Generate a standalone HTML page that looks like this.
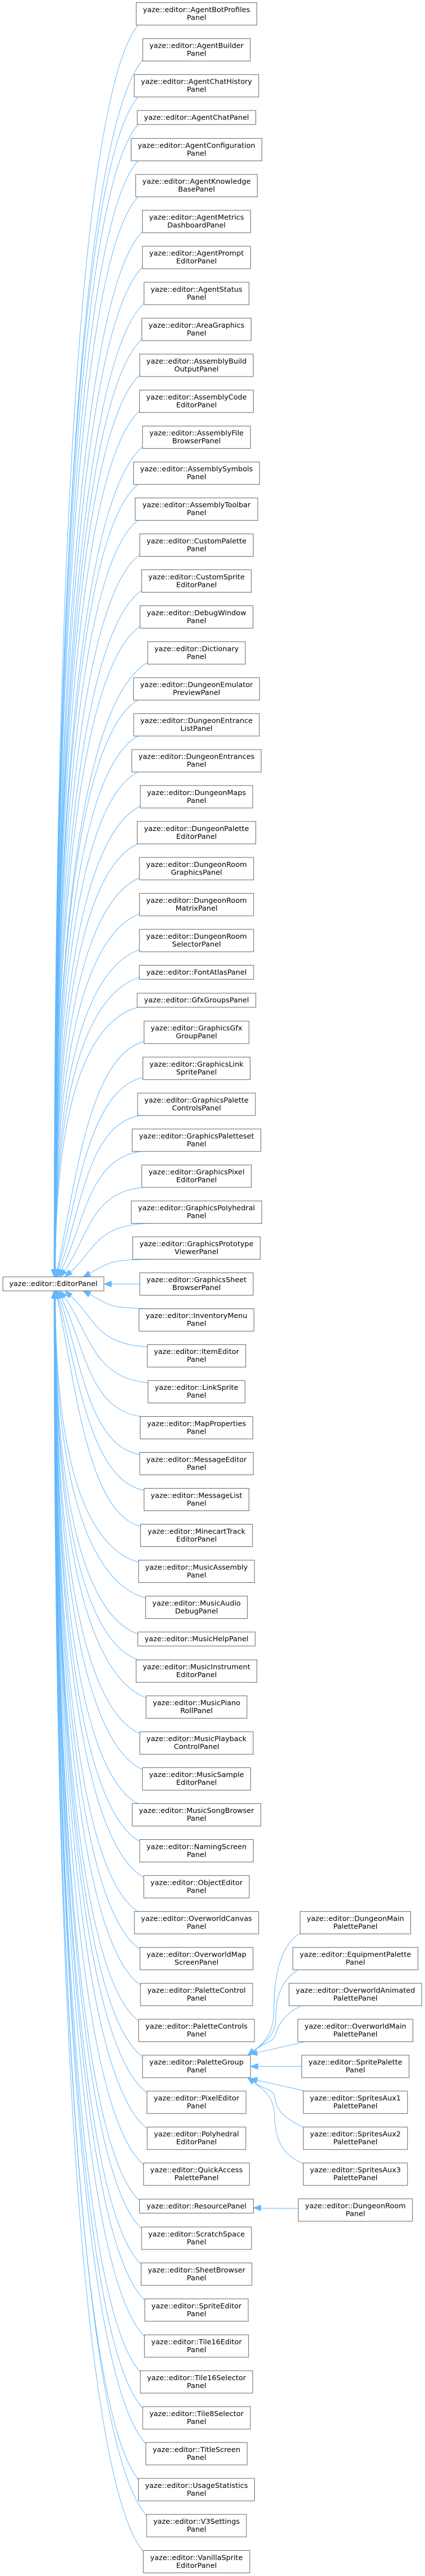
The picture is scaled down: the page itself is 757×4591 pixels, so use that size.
<!DOCTYPE html>
<html><head><meta charset="utf-8"><title>yaze::editor::EditorPanel inheritance</title>
<style>
html,body{margin:0;padding:0;background:#fff;}
svg{display:block;}
text{font-family:"DejaVu Sans","Liberation Sans",sans-serif;font-size:12.8px;text-anchor:middle;fill:#000;}
.n rect{fill:#fff;stroke:#666;stroke-width:1;}
.e path{fill:none;stroke:#63B8FF;stroke-width:1;}
.e polygon{fill:#63B8FF;stroke:#63B8FF;stroke-width:1;}
</style></head>
<body>
<svg xmlns="http://www.w3.org/2000/svg" width="757" height="4591" viewBox="0 0 757 4591">
<g class="e">
<path d="M246 44.7C151.8 160 96.4 898.6 96.4 2262.7"/>
<path d="M255.8 104.8C155.4 218.9 96.4 936.8 96.4 2262.7"/>
<path d="M246 172.8C151.8 281.5 96.4 977.4 96.4 2262.7"/>
<path d="M246 221.9C151.8 328 96.4 1007.6 96.4 2262.7"/>
<path d="M246 286.7C151.8 389.5 96.5 1047.5 96.5 2262.7"/>
<path d="M246 350.8C151.8 450.2 96.5 1086.9 96.5 2262.7"/>
<path d="M255.2 410.8C155.2 509 96.5 1125 96.5 2262.7"/>
<path d="M255.2 474.9C155.2 569.8 96.5 1164.4 96.5 2262.7"/>
<path d="M258 539C156.3 630.5 96.5 1203.9 96.5 2262.7"/>
<path d="M254.2 603C154.8 691.2 96.5 1243.2 96.5 2262.7"/>
<path d="M250.4 667.1C153.4 752 96.5 1282.6 96.5 2262.7"/>
<path d="M250.1 731.2C153.4 812.7 96.6 1322.1 96.6 2262.7"/>
<path d="M255.3 795.3C155.3 873.5 96.6 1361.5 96.6 2262.7"/>
<path d="M246 863.3C151.9 936.1 96.6 1402.1 96.6 2262.7"/>
<path d="M246 927.4C151.9 996.8 96.7 1441.5 96.7 2262.7"/>
<path d="M250.4 987.5C153.6 1055.7 96.7 1479.7 96.7 2262.7"/>
<path d="M253.8 1051.5C154.9 1116.4 96.8 1519 96.8 2262.7"/>
<path d="M250.9 1115.6C153.9 1177.1 96.9 1558.5 96.9 2262.7"/>
<path d="M264.5 1179.7C158.9 1237.9 96.9 1597.9 96.9 2262.7"/>
<path d="M246 1247.8C152.1 1300.6 97 1638.5 97 2262.7"/>
<path d="M246 1311.8C152.2 1361.2 97.1 1677.9 97.1 2262.7"/>
<path d="M246 1375.9C152.3 1422 97.2 1717.3 97.2 2262.7"/>
<path d="M251.5 1436C154.4 1480.9 97.3 1755.5 97.3 2262.7"/>
<path d="M246 1504C152.4 1543.5 97.5 1796.1 97.5 2262.7"/>
<path d="M249.8 1564.1C153.9 1602.3 97.6 1834.3 97.6 2262.7"/>
<path d="M249.8 1628.2C154 1663.1 97.8 1873.7 97.8 2262.7"/>
<path d="M249.8 1692.2C154.2 1723.8 98.1 1913.1 98.1 2262.7"/>
<path d="M249.7 1741.3C154.4 1770.3 98.4 1943.3 98.4 2262.7"/>
<path d="M246 1795.1C153.3 1819.4 98.8 1975.1 98.8 2262.7"/>
<path d="M258.1 1855.9C158.1 1879 134.5 2110.4 102.1 2263"/>
<path d="M256 1920C157.8 1939.7 137.5 2136.6 103.6 2263.1"/>
<path d="M250 1988.1C156.4 2002.4 144.5 2157.3 105.9 2263.5"/>
<path d="M252 2052.1C158.4 2063.1 150.4 2179.5 109.2 2264"/>
<path d="M256 2116.2C162.3 2123.9 158.3 2202.9 114.7 2265.1"/>
<path d="M263 2180.3C170.2 2184.8 170.7 2226.2 125.4 2267"/>
<path d="M268 2244.3C192.4 2245.6 197.5 2249.4 159.5 2269.6"/>
<path d="M249 2288.4L198.3 2288.4"/>
<path d="M268 2332.4C192.4 2331.1 197.5 2327 159.5 2306.8"/>
<path d="M263.8 2400.4C170.5 2395.7 170.7 2350.2 125.4 2309.4"/>
<path d="M265.2 2464.4C165.7 2456.4 160.6 2376.8 114.7 2311.3"/>
<path d="M252 2524.5C158.4 2513.5 150.4 2396.9 109.2 2312.4"/>
<path d="M250.3 2592.5C156.6 2578 144.5 2419.1 105.9 2312.9"/>
<path d="M258.1 2656.5C158.6 2638.7 137.5 2439.8 103.6 2313.3"/>
<path d="M251.8 2720.5C155.8 2699.3 134.5 2466 102.1 2313.4"/>
<path d="M248.3 2784.5C154.1 2760 98.8 2603.2 98.8 2313.7"/>
<path d="M260.9 2848.6C158.5 2820.8 98.4 2642.7 98.4 2313.7"/>
<path d="M247 2912.6C153.2 2881.5 98.1 2682 98.1 2313.7"/>
<path d="M246 2958.3C152.6 2924.8 97.8 2710.1 97.8 2313.7"/>
<path d="M261.6 3026.3C158.3 2989.2 97.6 2751.9 97.6 2313.7"/>
<path d="M250.5 3090.4C154.1 3050 97.5 2791.4 97.5 2313.7"/>
<path d="M255.1 3154.4C155.7 3110.7 97.3 2830.7 97.3 2313.7"/>
<path d="M246 3214.4C152.3 3167.6 97.2 2867.6 97.2 2313.7"/>
<path d="M250.3 3282.5C153.8 3232.1 97.1 2909.5 97.1 2313.7"/>
<path d="M257.5 3346.6C156.4 3292.9 97 2948.9 97 2313.7"/>
<path d="M246 3406.7C152.1 3349.9 96.9 2985.9 96.9 2313.7"/>
<path d="M250.8 3474.7C153.8 3414.3 96.9 3027.7 96.9 2313.7"/>
<path d="M251.6 3538.7C154.1 3475 96.8 3067.1 96.8 2313.7"/>
<path d="M248.3 3602.7C152.8 3535.7 96.7 3106.4 96.7 2313.7"/>
<path d="M255.3 3666.8C155.4 3596.4 96.7 3145.9 96.7 2313.7"/>
<path d="M263.3 3730.8C158.3 3657.1 96.6 3185.2 96.6 2313.7"/>
<path d="M263.6 3794.9C158.4 3717.9 96.6 3224.6 96.6 2313.7"/>
<path d="M257.2 3858.9C156 3778.5 96.6 3264 96.6 2313.7"/>
<path d="M250 3923.3C153.3 3839.6 96.5 3303.6 96.5 2313.7"/>
<path d="M253.6 3973C154.6 3886.7 96.5 3334.2 96.5 2313.7"/>
<path d="M252.8 4037C154.3 3947.4 96.5 3373.5 96.5 2313.7"/>
<path d="M259.4 4101C156.8 4008.1 96.5 3412.9 96.5 2313.7"/>
<path d="M258.8 4165.1C156.6 4068.8 96.5 3452.3 96.5 2313.7"/>
<path d="M251.5 4229.1C153.8 4129.5 96.5 3491.7 96.5 2313.7"/>
<path d="M255.6 4293.1C155.4 4190.2 96.5 3531.1 96.5 2313.7"/>
<path d="M261.3 4357C157.4 4250.7 96.4 3570.3 96.4 2313.7"/>
<path d="M248.1 4421.1C152.5 4311.5 96.4 3609.8 96.4 2313.7"/>
<path d="M262.6 4485.2C157.9 4372.3 96.4 3649.2 96.4 2313.7"/>
<path d="M256.7 4549.5C155.7 4433.2 96.4 3688.7 96.4 2313.7"/>
<!-- heads above -->
<polygon points="96.4,2275.7 91.4,2262.7 101.4,2262.7"/>
<polygon points="96.5,2275.7 91.5,2262.7 101.5,2262.7"/>
<polygon points="96.6,2275.7 91.6,2262.7 101.6,2262.7"/>
<polygon points="96.7,2275.7 91.7,2262.7 101.7,2262.7"/>
<polygon points="96.8,2275.7 91.8,2262.7 101.8,2262.7"/>
<polygon points="96.9,2275.7 91.9,2262.7 101.9,2262.7"/>
<polygon points="97,2275.7 92,2262.7 102,2262.7"/>
<polygon points="97.1,2275.7 92.1,2262.7 102.1,2262.7"/>
<polygon points="97.2,2275.7 92.2,2262.7 102.2,2262.7"/>
<polygon points="97.3,2275.7 92.3,2262.7 102.3,2262.7"/>
<polygon points="97.5,2275.7 92.5,2262.7 102.5,2262.7"/>
<polygon points="97.6,2275.7 92.6,2262.7 102.6,2262.7"/>
<polygon points="97.8,2275.7 92.8,2262.7 102.8,2262.7"/>
<polygon points="98.1,2275.7 93.1,2262.7 103.1,2262.7"/>
<polygon points="98.4,2275.7 93.4,2262.7 103.4,2262.7"/>
<polygon points="98.8,2275.7 93.8,2262.7 103.8,2262.7"/>
<polygon points="99.4,2275.7 107,2264 97.2,2262"/>
<polygon points="100.2,2275.7 108.4,2264.4 98.8,2261.8"/>
<polygon points="101.5,2275.7 110.6,2265.2 101.2,2261.8"/>
<polygon points="103.5,2275.7 113.7,2266.2 104.7,2261.8"/>
<polygon points="107.2,2275.7 118.8,2268 110.6,2262.2"/>
<polygon points="115.7,2275.7 128.7,2270.7 122.1,2263.3"/>
<polygon points="148,2275.7 161.9,2274 157.2,2265.2"/>
<polygon points="185.3,2288.4 198.3,2283.4 198.3,2293.4"/>
<!-- heads below -->
<polygon points="148,2300.7 161.9,2302.4 157.2,2311.2"/>
<polygon points="115.7,2300.7 128.7,2305.7 122.1,2313.1"/>
<polygon points="107.2,2300.7 118.8,2308.4 110.6,2314.2"/>
<polygon points="103.5,2300.7 113.7,2310.2 104.7,2314.6"/>
<polygon points="101.5,2300.7 110.6,2311.2 101.2,2314.6"/>
<polygon points="100.2,2300.7 108.4,2312 98.8,2314.6"/>
<polygon points="99.4,2300.7 107,2312.4 97.2,2314.4"/>
<polygon points="98.8,2300.7 93.8,2313.7 103.8,2313.7"/>
<polygon points="98.4,2300.7 93.4,2313.7 103.4,2313.7"/>
<polygon points="98.1,2300.7 93.1,2313.7 103.1,2313.7"/>
<polygon points="97.8,2300.7 92.8,2313.7 102.8,2313.7"/>
<polygon points="97.6,2300.7 92.6,2313.7 102.6,2313.7"/>
<polygon points="97.5,2300.7 92.5,2313.7 102.5,2313.7"/>
<polygon points="97.3,2300.7 92.3,2313.7 102.3,2313.7"/>
<polygon points="97.2,2300.7 92.2,2313.7 102.2,2313.7"/>
<polygon points="97.1,2300.7 92.1,2313.7 102.1,2313.7"/>
<polygon points="97,2300.7 92,2313.7 102,2313.7"/>
<polygon points="96.9,2300.7 91.9,2313.7 101.9,2313.7"/>
<polygon points="96.8,2300.7 91.8,2313.7 101.8,2313.7"/>
<polygon points="96.7,2300.7 91.7,2313.7 101.7,2313.7"/>
<polygon points="96.6,2300.7 91.6,2313.7 101.6,2313.7"/>
<polygon points="96.5,2300.7 91.5,2313.7 101.5,2313.7"/>
<polygon points="96.4,2300.7 91.4,2313.7 101.4,2313.7"/>
<!-- right column edges -->
<path d="M534.5 3446C500 3466 488 3520 488 3580C488 3625 470 3641 451.4 3655"/>
<path d="M530.7 3510.7C500 3530 491 3560 491 3600C491 3628 470 3641 451.4 3655"/>
<path d="M536.3 3574.7C505 3590 494 3612 490 3628C486 3640 470 3641 451.4 3655"/>
<polygon points="441,3662.8 454.4,3659 448.4,3651"/>
<path d="M544 3638.7L457.7 3658.3"/>
<polygon points="445,3661 458.8,3663.2 456.6,3653.4"/>
<path d="M537.4 3682.8L459.3 3682.8"/>
<polygon points="446.3,3682.8 459.3,3677.8 459.3,3687.8"/>
<path d="M544 3726.8L457.7 3707.3"/>
<polygon points="445,3704.6 458.8,3702.4 456.6,3712.2"/>
<path d="M540.5 3791C505 3775 492 3760 490 3740C488 3722 470 3724.6 451.4 3710.6"/>
<path d="M540.5 3856C500 3840 490 3810 489 3770C488 3738 470 3724.6 451.4 3710.6"/>
<polygon points="441,3702.8 454.4,3706.6 448.4,3714.6"/>
<path d="M531.3 3936L464.5 3935.5"/>
<polygon points="451.5,3935 464.5,3930 464.5,3940"/>
</g>

<g class="n">
<g transform="translate(0,2275.7)"><rect x="5" y="0" width="180" height="25"/><text x="95" y="16.5">yaze::editor::EditorPanel</text></g>

<g transform="translate(0,4.7)"><rect x="242.6" y="0" width="214.8" height="40"/><text x="350" y="16.8">yaze::editor::AgentBotProfiles</text><text x="350" y="30.8">Panel</text></g>
<g transform="translate(0,68.8)"><rect x="254.3" y="0" width="191.4" height="40"/><text x="350" y="16.8">yaze::editor::AgentBuilder</text><text x="350" y="30.8">Panel</text></g>
<g transform="translate(0,132.8)"><rect x="239.2" y="0" width="221.6" height="40"/><text x="350" y="16.8">yaze::editor::AgentChatHistory</text><text x="350" y="30.8">Panel</text></g>
<g transform="translate(0,196.9)"><rect x="244.4" y="0" width="211.2" height="25"/><text x="350" y="16.5">yaze::editor::AgentChatPanel</text></g>
<g transform="translate(0,246.7)"><rect x="233.5" y="0" width="233" height="40"/><text x="350" y="16.8">yaze::editor::AgentConfiguration</text><text x="350" y="30.8">Panel</text></g>
<g transform="translate(0,310.8)"><rect x="241.7" y="0" width="216.6" height="40"/><text x="350" y="16.8">yaze::editor::AgentKnowledge</text><text x="350" y="30.8">BasePanel</text></g>
<g transform="translate(0,374.8)"><rect x="253.7" y="0" width="192.6" height="40"/><text x="350" y="16.8">yaze::editor::AgentMetrics</text><text x="350" y="30.8">DashboardPanel</text></g>
<g transform="translate(0,438.9)"><rect x="253.7" y="0" width="192.6" height="40"/><text x="350" y="16.8">yaze::editor::AgentPrompt</text><text x="350" y="30.8">EditorPanel</text></g>
<g transform="translate(0,503)"><rect x="256.5" y="0" width="187" height="40"/><text x="350" y="16.8">yaze::editor::AgentStatus</text><text x="350" y="30.8">Panel</text></g>
<g transform="translate(0,567)"><rect x="252.7" y="0" width="194.6" height="40"/><text x="350" y="16.8">yaze::editor::AreaGraphics</text><text x="350" y="30.8">Panel</text></g>
<g transform="translate(0,631.1)"><rect x="248.9" y="0" width="202.2" height="40"/><text x="350" y="16.8">yaze::editor::AssemblyBuild</text><text x="350" y="30.8">OutputPanel</text></g>
<g transform="translate(0,695.2)"><rect x="248.6" y="0" width="202.8" height="40"/><text x="350" y="16.8">yaze::editor::AssemblyCode</text><text x="350" y="30.8">EditorPanel</text></g>
<g transform="translate(0,759.3)"><rect x="253.8" y="0" width="192.4" height="40"/><text x="350" y="16.8">yaze::editor::AssemblyFile</text><text x="350" y="30.8">BrowserPanel</text></g>
<g transform="translate(0,823.3)"><rect x="237.8" y="0" width="224.4" height="40"/><text x="350" y="16.8">yaze::editor::AssemblySymbols</text><text x="350" y="30.8">Panel</text></g>
<g transform="translate(0,887.4)"><rect x="240.9" y="0" width="218.2" height="40"/><text x="350" y="16.8">yaze::editor::AssemblyToolbar</text><text x="350" y="30.8">Panel</text></g>
<g transform="translate(0,951.5)"><rect x="248.9" y="0" width="202.2" height="40"/><text x="350" y="16.8">yaze::editor::CustomPalette</text><text x="350" y="30.8">Panel</text></g>
<g transform="translate(0,1015.5)"><rect x="252.3" y="0" width="195.4" height="40"/><text x="350" y="16.8">yaze::editor::CustomSprite</text><text x="350" y="30.8">EditorPanel</text></g>
<g transform="translate(0,1079.6)"><rect x="249.4" y="0" width="201.2" height="40"/><text x="350" y="16.8">yaze::editor::DebugWindow</text><text x="350" y="30.8">Panel</text></g>
<g transform="translate(0,1143.7)"><rect x="263" y="0" width="174" height="40"/><text x="350" y="16.8">yaze::editor::Dictionary</text><text x="350" y="30.8">Panel</text></g>
<g transform="translate(0,1207.8)"><rect x="237.7" y="0" width="224.6" height="40"/><text x="350" y="16.8">yaze::editor::DungeonEmulator</text><text x="350" y="30.8">PreviewPanel</text></g>
<g transform="translate(0,1271.8)"><rect x="238.1" y="0" width="223.8" height="40"/><text x="350" y="16.8">yaze::editor::DungeonEntrance</text><text x="350" y="30.8">ListPanel</text></g>
<g transform="translate(0,1335.9)"><rect x="234.8" y="0" width="230.4" height="40"/><text x="350" y="16.8">yaze::editor::DungeonEntrances</text><text x="350" y="30.8">Panel</text></g>
<g transform="translate(0,1400)"><rect x="250" y="0" width="200" height="40"/><text x="350" y="16.8">yaze::editor::DungeonMaps</text><text x="350" y="30.8">Panel</text></g>
<g transform="translate(0,1464)"><rect x="244.4" y="0" width="211.2" height="40"/><text x="350" y="16.8">yaze::editor::DungeonPalette</text><text x="350" y="30.8">EditorPanel</text></g>
<g transform="translate(0,1528.1)"><rect x="248.3" y="0" width="203.4" height="40"/><text x="350" y="16.8">yaze::editor::DungeonRoom</text><text x="350" y="30.8">GraphicsPanel</text></g>
<g transform="translate(0,1592.2)"><rect x="248.3" y="0" width="203.4" height="40"/><text x="350" y="16.8">yaze::editor::DungeonRoom</text><text x="350" y="30.8">MatrixPanel</text></g>
<g transform="translate(0,1656.2)"><rect x="248.3" y="0" width="203.4" height="40"/><text x="350" y="16.8">yaze::editor::DungeonRoom</text><text x="350" y="30.8">SelectorPanel</text></g>
<g transform="translate(0,1720.3)"><rect x="248.2" y="0" width="203.6" height="25"/><text x="350" y="16.5">yaze::editor::FontAtlasPanel</text></g>
<g transform="translate(0,1770.1)"><rect x="244.3" y="0" width="211.4" height="25"/><text x="350" y="16.5">yaze::editor::GfxGroupsPanel</text></g>
<g transform="translate(0,1819.9)"><rect x="256.6" y="0" width="186.8" height="40"/><text x="350" y="16.8">yaze::editor::GraphicsGfx</text><text x="350" y="30.8">GroupPanel</text></g>
<g transform="translate(0,1884)"><rect x="254.5" y="0" width="191" height="40"/><text x="350" y="16.8">yaze::editor::GraphicsLink</text><text x="350" y="30.8">SpritePanel</text></g>
<g transform="translate(0,1948.1)"><rect x="245.1" y="0" width="209.8" height="40"/><text x="350" y="16.8">yaze::editor::GraphicsPalette</text><text x="350" y="30.8">ControlsPanel</text></g>
<g transform="translate(0,2012.1)"><rect x="235.3" y="0" width="229.4" height="40"/><text x="350" y="16.8">yaze::editor::GraphicsPaletteset</text><text x="350" y="30.8">Panel</text></g>
<g transform="translate(0,2076.2)"><rect x="252.4" y="0" width="195.2" height="40"/><text x="350" y="16.8">yaze::editor::GraphicsPixel</text><text x="350" y="30.8">EditorPanel</text></g>
<g transform="translate(0,2140.3)"><rect x="233.8" y="0" width="232.4" height="40"/><text x="350" y="16.8">yaze::editor::GraphicsPolyhedral</text><text x="350" y="30.8">Panel</text></g>
<g transform="translate(0,2204.3)"><rect x="236.4" y="0" width="227.2" height="40"/><text x="350" y="16.8">yaze::editor::GraphicsPrototype</text><text x="350" y="30.8">ViewerPanel</text></g>
<g transform="translate(0,2268.4)"><rect x="249" y="0" width="202" height="40"/><text x="350" y="16.8">yaze::editor::GraphicsSheet</text><text x="350" y="30.8">BrowserPanel</text></g>
<g transform="translate(0,2332.4)"><rect x="247.7" y="0" width="204.6" height="40"/><text x="350" y="16.8">yaze::editor::InventoryMenu</text><text x="350" y="30.8">Panel</text></g>
<g transform="translate(0,2396.4)"><rect x="262.3" y="0" width="175.4" height="40"/><text x="350" y="16.8">yaze::editor::ItemEditor</text><text x="350" y="30.8">Panel</text></g>
<g transform="translate(0,2460.4)"><rect x="263.7" y="0" width="172.6" height="40"/><text x="350" y="16.8">yaze::editor::LinkSprite</text><text x="350" y="30.8">Panel</text></g>
<g transform="translate(0,2524.5)"><rect x="249.7" y="0" width="200.6" height="40"/><text x="350" y="16.8">yaze::editor::MapProperties</text><text x="350" y="30.8">Panel</text></g>
<g transform="translate(0,2588.5)"><rect x="248.8" y="0" width="202.4" height="40"/><text x="350" y="16.8">yaze::editor::MessageEditor</text><text x="350" y="30.8">Panel</text></g>
<g transform="translate(0,2652.5)"><rect x="256.6" y="0" width="186.8" height="40"/><text x="350" y="16.8">yaze::editor::MessageList</text><text x="350" y="30.8">Panel</text></g>
<g transform="translate(0,2716.5)"><rect x="250.3" y="0" width="199.4" height="40"/><text x="350" y="16.8">yaze::editor::MinecartTrack</text><text x="350" y="30.8">EditorPanel</text></g>
<g transform="translate(0,2780.5)"><rect x="246.8" y="0" width="206.4" height="40"/><text x="350" y="16.8">yaze::editor::MusicAssembly</text><text x="350" y="30.8">Panel</text></g>
<g transform="translate(0,2844.6)"><rect x="259.4" y="0" width="181.2" height="40"/><text x="350" y="16.8">yaze::editor::MusicAudio</text><text x="350" y="30.8">DebugPanel</text></g>
<g transform="translate(0,2908.6)"><rect x="245.5" y="0" width="209" height="25"/><text x="350" y="16.5">yaze::editor::MusicHelpPanel</text></g>
<g transform="translate(0,2958.3)"><rect x="242.4" y="0" width="215.2" height="40"/><text x="350" y="16.8">yaze::editor::MusicInstrument</text><text x="350" y="30.8">EditorPanel</text></g>
<g transform="translate(0,3022.3)"><rect x="260.1" y="0" width="179.8" height="40"/><text x="350" y="16.8">yaze::editor::MusicPiano</text><text x="350" y="30.8">RollPanel</text></g>
<g transform="translate(0,3086.4)"><rect x="249" y="0" width="202" height="40"/><text x="350" y="16.8">yaze::editor::MusicPlayback</text><text x="350" y="30.8">ControlPanel</text></g>
<g transform="translate(0,3150.4)"><rect x="253.6" y="0" width="192.8" height="40"/><text x="350" y="16.8">yaze::editor::MusicSample</text><text x="350" y="30.8">EditorPanel</text></g>
<g transform="translate(0,3214.4)"><rect x="235.4" y="0" width="229.2" height="40"/><text x="350" y="16.8">yaze::editor::MusicSongBrowser</text><text x="350" y="30.8">Panel</text></g>
<g transform="translate(0,3278.5)"><rect x="248.8" y="0" width="202.4" height="40"/><text x="350" y="16.8">yaze::editor::NamingScreen</text><text x="350" y="30.8">Panel</text></g>
<g transform="translate(0,3342.6)"><rect x="256" y="0" width="188" height="40"/><text x="350" y="16.8">yaze::editor::ObjectEditor</text><text x="350" y="30.8">Panel</text></g>
<g transform="translate(0,3406.7)"><rect x="239.3" y="0" width="221.4" height="40"/><text x="350" y="16.8">yaze::editor::OverworldCanvas</text><text x="350" y="30.8">Panel</text></g>
<g transform="translate(0,3470.7)"><rect x="249.3" y="0" width="201.4" height="40"/><text x="350" y="16.8">yaze::editor::OverworldMap</text><text x="350" y="30.8">ScreenPanel</text></g>
<g transform="translate(0,3534.7)"><rect x="250.1" y="0" width="199.8" height="40"/><text x="350" y="16.8">yaze::editor::PaletteControl</text><text x="350" y="30.8">Panel</text></g>
<g transform="translate(0,3598.7)"><rect x="246.8" y="0" width="206.4" height="40"/><text x="350" y="16.8">yaze::editor::PaletteControls</text><text x="350" y="30.8">Panel</text></g>
<g transform="translate(0,3662.8)"><rect x="253.8" y="0" width="192.4" height="40"/><text x="350" y="16.8">yaze::editor::PaletteGroup</text><text x="350" y="30.8">Panel</text></g>
<g transform="translate(0,3726.8)"><rect x="261.8" y="0" width="176.4" height="40"/><text x="350" y="16.8">yaze::editor::PixelEditor</text><text x="350" y="30.8">Panel</text></g>
<g transform="translate(0,3790.9)"><rect x="262.1" y="0" width="175.8" height="40"/><text x="350" y="16.8">yaze::editor::Polyhedral</text><text x="350" y="30.8">EditorPanel</text></g>
<g transform="translate(0,3854.9)"><rect x="255.7" y="0" width="188.6" height="40"/><text x="350" y="16.8">yaze::editor::QuickAccess</text><text x="350" y="30.8">PalettePanel</text></g>
<g transform="translate(0,3919.3)"><rect x="248.5" y="0" width="203" height="25"/><text x="350" y="16.5">yaze::editor::ResourcePanel</text></g>
<g transform="translate(0,3969)"><rect x="252.1" y="0" width="195.8" height="40"/><text x="350" y="16.8">yaze::editor::ScratchSpace</text><text x="350" y="30.8">Panel</text></g>
<g transform="translate(0,4033)"><rect x="251.3" y="0" width="197.4" height="40"/><text x="350" y="16.8">yaze::editor::SheetBrowser</text><text x="350" y="30.8">Panel</text></g>
<g transform="translate(0,4097)"><rect x="257.9" y="0" width="184.2" height="40"/><text x="350" y="16.8">yaze::editor::SpriteEditor</text><text x="350" y="30.8">Panel</text></g>
<g transform="translate(0,4161.1)"><rect x="257.3" y="0" width="185.4" height="40"/><text x="350" y="16.8">yaze::editor::Tile16Editor</text><text x="350" y="30.8">Panel</text></g>
<g transform="translate(0,4225.1)"><rect x="250" y="0" width="200" height="40"/><text x="350" y="16.8">yaze::editor::Tile16Selector</text><text x="350" y="30.8">Panel</text></g>
<g transform="translate(0,4289.1)"><rect x="254.1" y="0" width="191.8" height="40"/><text x="350" y="16.8">yaze::editor::Tile8Selector</text><text x="350" y="30.8">Panel</text></g>
<g transform="translate(0,4353)"><rect x="259.8" y="0" width="180.4" height="40"/><text x="350" y="16.8">yaze::editor::TitleScreen</text><text x="350" y="30.8">Panel</text></g>
<g transform="translate(0,4417.1)"><rect x="246.6" y="0" width="206.8" height="40"/><text x="350" y="16.8">yaze::editor::UsageStatistics</text><text x="350" y="30.8">Panel</text></g>
<g transform="translate(0,4481.2)"><rect x="261.1" y="0" width="177.8" height="40"/><text x="350" y="16.8">yaze::editor::V3Settings</text><text x="350" y="30.8">Panel</text></g>
<g transform="translate(0,4545.5)"><rect x="255.2" y="0" width="189.6" height="40"/><text x="350" y="16.8">yaze::editor::VanillaSprite</text><text x="350" y="30.8">EditorPanel</text></g>

<!-- right column -->
<g transform="translate(0,3406.7)"><rect x="534.5" y="0" width="197" height="40"/><text x="633" y="16.8">yaze::editor::DungeonMain</text><text x="633" y="30.8">PalettePanel</text></g>
<g transform="translate(0,3470.7)"><rect x="521.6" y="0" width="222.8" height="40"/><text x="633" y="16.8">yaze::editor::EquipmentPalette</text><text x="633" y="30.8">Panel</text></g>
<g transform="translate(0,3534.7)"><rect x="514.9" y="0" width="236.2" height="40"/><text x="633" y="16.8">yaze::editor::OverworldAnimated</text><text x="633" y="30.8">PalettePanel</text></g>
<g transform="translate(0,3598.7)"><rect x="530.5" y="0" width="205" height="40"/><text x="633" y="16.8">yaze::editor::OverworldMain</text><text x="633" y="30.8">PalettePanel</text></g>
<g transform="translate(0,3662.8)"><rect x="537.4" y="0" width="191.2" height="40"/><text x="633" y="16.8">yaze::editor::SpritePalette</text><text x="633" y="30.8">Panel</text></g>
<g transform="translate(0,3726.8)"><rect x="540.2" y="0" width="185.6" height="40"/><text x="633" y="16.8">yaze::editor::SpritesAux1</text><text x="633" y="30.8">PalettePanel</text></g>
<g transform="translate(0,3790.9)"><rect x="540.2" y="0" width="185.6" height="40"/><text x="633" y="16.8">yaze::editor::SpritesAux2</text><text x="633" y="30.8">PalettePanel</text></g>
<g transform="translate(0,3854.9)"><rect x="540.2" y="0" width="185.6" height="40"/><text x="633" y="16.8">yaze::editor::SpritesAux3</text><text x="633" y="30.8">PalettePanel</text></g>
<g transform="translate(0,3918.8)"><rect x="531.3" y="0" width="203.4" height="40"/><text x="633" y="16.8">yaze::editor::DungeonRoom</text><text x="633" y="30.8">Panel</text></g>
</g>
</svg>
</body></html>
